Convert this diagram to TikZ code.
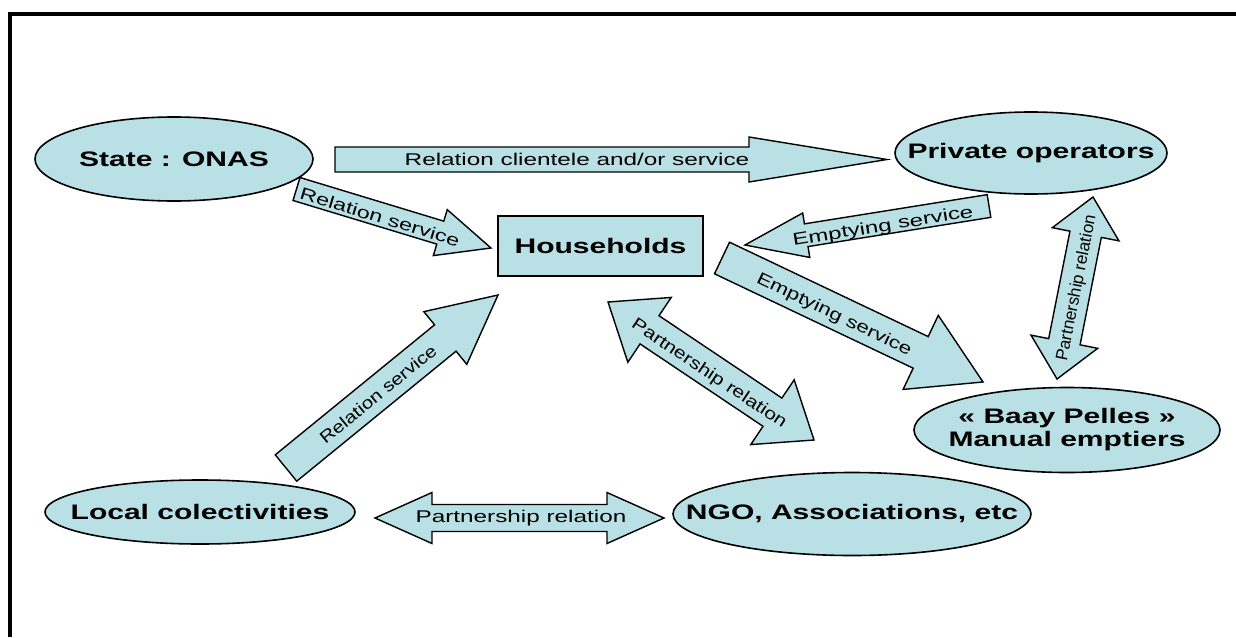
\documentclass[tikz,border=0pt]{standalone}
\usepackage{fontspec}
\setmainfont{Liberation Sans}
\newfontfamily\widesans[FakeStretch=1.43]{Liberation Sans}
\usetikzlibrary{shapes.geometric,calc}
\definecolor{paleteal}{RGB}{185,224,228}

% block arrow: tail, tip, half body, half head, head length
\newcommand{\blockarrow}[5]{%
 \coordinate (hb) at ($(#2)!#5!(#1)$);
 \draw[blk] ($(#1)!#3!90:(#2)$) -- ($(hb)!#3!90:(#2)$) -- ($(hb)!#4!90:(#2)$) -- (#2)
  -- ($(hb)!#4!-90:(#2)$) -- ($(hb)!#3!-90:(#2)$) -- ($(#1)!#3!-90:(#2)$) -- cycle;}
% double block arrow: tip, tip, half body, half head, head length
\newcommand{\dblarrow}[5]{%
 \coordinate (ha) at ($(#1)!#5!(#2)$);
 \coordinate (hb) at ($(#2)!#5!(#1)$);
 \draw[blk] (#1) -- ($(ha)!#4!90:(#2)$) -- ($(ha)!#3!90:(#2)$) -- ($(hb)!#3!90:(#2)$) -- ($(hb)!#4!90:(#2)$) -- (#2)
  -- ($(hb)!#4!-90:(#2)$) -- ($(hb)!#3!-90:(#2)$) -- ($(ha)!#3!-90:(#2)$) -- ($(ha)!#4!-90:(#2)$) -- cycle;}
% text that does not widen its ellipse
\newcommand{\zw}[1]{\makebox[0pt]{#1}}

\begin{document}
\begin{tikzpicture}[x=1pt,y=-1pt,
 e/.style={draw,line width=1.6pt,ellipse,fill=paleteal,inner sep=0pt,align=center,font=\widesans\bfseries\fontsize{21}{23}\selectfont},
 b/.style={draw,line width=1.6pt,fill=paleteal,inner sep=0pt,font=\widesans\bfseries\fontsize{21}{23}\selectfont},
 blk/.style={draw,line width=1.4pt,fill=paleteal,line join=miter},
 l/.style={inner sep=0pt,font=\fontsize{17}{20}\selectfont}]
\useasboundingbox (0,0) rectangle (1236,637);
\draw[line width=3.5pt] (10,637) -- (10,14) -- (1236,14);

\node[e,minimum width=278pt,minimum height=84pt] (state) at (174,159) {\zw{State : ONAS}};
\node[e,minimum width=272pt,minimum height=82pt] (private) at (1031,153) {\zw{Private operators}};
\node[b,minimum width=205pt,minimum height=60pt] (house) at (600.5,246) {Households};
\node[e,minimum width=310pt,minimum height=64pt] (local) at (200,512) {\zw{Local colectivities}};
\node[e,minimum width=306pt,minimum height=85pt] (baay) at (1067,430) {\zw{« Baay Pelles »}\\\zw{Manual emptiers}};
\node[e,minimum width=358pt,minimum height=83pt] (ngo) at (852,514) {\zw{NGO, Associations, etc}};

% arrow ends
\coordinate (cl1) at (335,159.5); \coordinate (cl2) at (887,159.5);
\coordinate (rs1) at (296.5,189); \coordinate (rs2) at (491,248);
\coordinate (rl1) at (286,468); \coordinate (rl2) at (498,295);
\coordinate (pn1) at (608,302); \coordinate (pn2) at (814,440);
\coordinate (eh1) at (989,206); \coordinate (eh2) at (745,245);
\coordinate (eb1) at (722,258); \coordinate (eb2) at (983,382);
\coordinate (pb1) at (1057,379); \coordinate (pb2) at (1093,197);
\coordinate (pl1) at (375,518); \coordinate (pl2) at (664,518);

\blockarrow{cl1}{cl2}{12.5pt}{22.5pt}{138pt}
\blockarrow{rs1}{rs2}{12pt}{24pt}{53pt}
\blockarrow{rl1}{rl2}{17pt}{34pt}{68pt}
\dblarrow{pn1}{pn2}{17pt}{39pt}{50pt}
\blockarrow{eh1}{eh2}{11.5pt}{22.5pt}{62pt}
\blockarrow{eb1}{eb2}{17.5pt}{41pt}{69pt}
\dblarrow{pb1}{pb2}{16pt}{34pt}{38pt}
\dblarrow{pl1}{pl2}{13.5pt}{25.5pt}{57pt}

\node[l,xscale=1.43] (tcl) at (577,159) {Relation clientele and/or service};
\node[l,rotate=-16.9,xscale=1.37] (trs) at (380,217) {Relation service};
\node[l,rotate=39.2,xscale=1.2] (trl) at (378,394) {Relation service};
\node[l,rotate=-33.8,xscale=1.24] (tpn) at (709,374) {Partnership relation};
\node[l,rotate=9.1,xscale=1.41] (teh) at (883,227) {Emptying service};
\node[l,rotate=-25.4,xscale=1.31] (teb) at (834,315) {Emptying service};
\node[l,rotate=78.8,xscale=1.01] (tpb) at (1077,288) {Partnership relation};
\node[l,xscale=1.43] (tpl) at (521,518) {Partnership relation};
\end{tikzpicture}
\end{document}
